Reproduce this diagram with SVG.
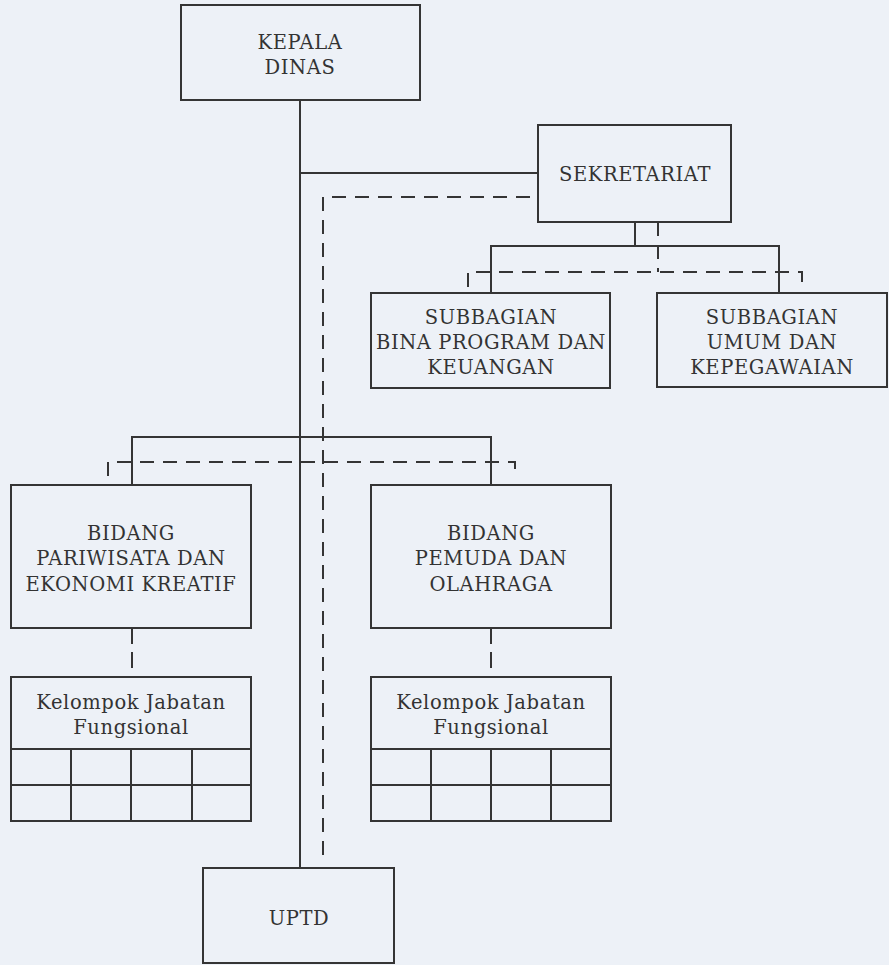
<svg xmlns="http://www.w3.org/2000/svg" width="889" height="965" viewBox="0 0 889 965">
<style>
.bg{fill:#edf1f7}
.box{fill:none;stroke:#353535;stroke-width:2}
.ln{fill:none;stroke:#353535;stroke-width:2}
.ds{fill:none;stroke:#353535;stroke-width:2;stroke-dasharray:14 9}
.t{font-family:"DejaVu Serif","Liberation Serif",serif;font-size:19.5px;fill:#333333;text-anchor:middle;letter-spacing:0.6px}
</style>
<rect class="bg" x="0" y="0" width="889" height="965"/>
<g id="connectors">
<path class="ln" d="M300 100 V868"/>
<path class="ln" d="M300 173 H538"/>
<path class="ln" d="M132 485 V437 H491 V485"/>
<path class="ln" d="M635 222 V246"/>
<path class="ln" d="M491 293 V246 H779 V293"/>
<path class="ds" d="M530 197 H323 V858"/>
<path class="ds" d="M108 476 V462 H515 V476"/>
<path class="ds" d="M658 222 V272"/>
<path class="ds" d="M468 287 V272 H802 V287"/>
<path class="ds" d="M132 628 V677" style="stroke-dasharray:16 8"/>
<path class="ds" d="M491 628 V677" style="stroke-dasharray:16 8"/>
</g>
<g id="kepala">
<rect class="box" x="181" y="5" width="239" height="95"/>
<text class="t" x="300" y="49">KEPALA</text>
<text class="t" x="300" y="74">DINAS</text>
</g>
<g id="sekretariat">
<rect class="box" x="538" y="125" width="193" height="97"/>
<text class="t" x="635" y="181">SEKRETARIAT</text>
</g>
<g id="subbagian-program">
<rect class="box" x="371" y="293" width="239" height="95"/>
<text class="t" x="491" y="324">SUBBAGIAN</text>
<text class="t" x="491" y="349">BINA PROGRAM DAN</text>
<text class="t" x="491" y="374">KEUANGAN</text>
</g>
<g id="subbagian-umum">
<rect class="box" x="657" y="293" width="230" height="94"/>
<text class="t" x="772" y="324">SUBBAGIAN</text>
<text class="t" x="772" y="349">UMUM DAN</text>
<text class="t" x="772" y="374">KEPEGAWAIAN</text>
</g>
<g id="bidang-pariwisata">
<rect class="box" x="11" y="485" width="240" height="143"/>
<text class="t" x="131" y="540">BIDANG</text>
<text class="t" x="131" y="565">PARIWISATA DAN</text>
<text class="t" x="131" y="590.5">EKONOMI KREATIF</text>
</g>
<g id="bidang-pemuda">
<rect class="box" x="371" y="485" width="240" height="143"/>
<text class="t" x="491" y="540">BIDANG</text>
<text class="t" x="491" y="565">PEMUDA DAN</text>
<text class="t" x="491" y="590.5">OLAHRAGA</text>
</g>
<g id="kelompok-1">
<rect class="box" x="11" y="677" width="240" height="144"/>
<path class="ln" d="M11 749 H251 M11 785 H251 M71 749 V821 M131 749 V821 M192 749 V821"/>
<text class="t" x="131" y="708.5">Kelompok Jabatan</text>
<text class="t" x="131" y="733.5">Fungsional</text>
</g>
<g id="kelompok-2">
<rect class="box" x="371" y="677" width="240" height="144"/>
<path class="ln" d="M371 749 H611 M371 785 H611 M431 749 V821 M491 749 V821 M551 749 V821"/>
<text class="t" x="491" y="708.5">Kelompok Jabatan</text>
<text class="t" x="491" y="733.5">Fungsional</text>
</g>
<g id="uptd">
<rect class="box" x="203" y="868" width="191" height="95"/>
<text class="t" x="299" y="924.5">UPTD</text>
</g>
</svg>
